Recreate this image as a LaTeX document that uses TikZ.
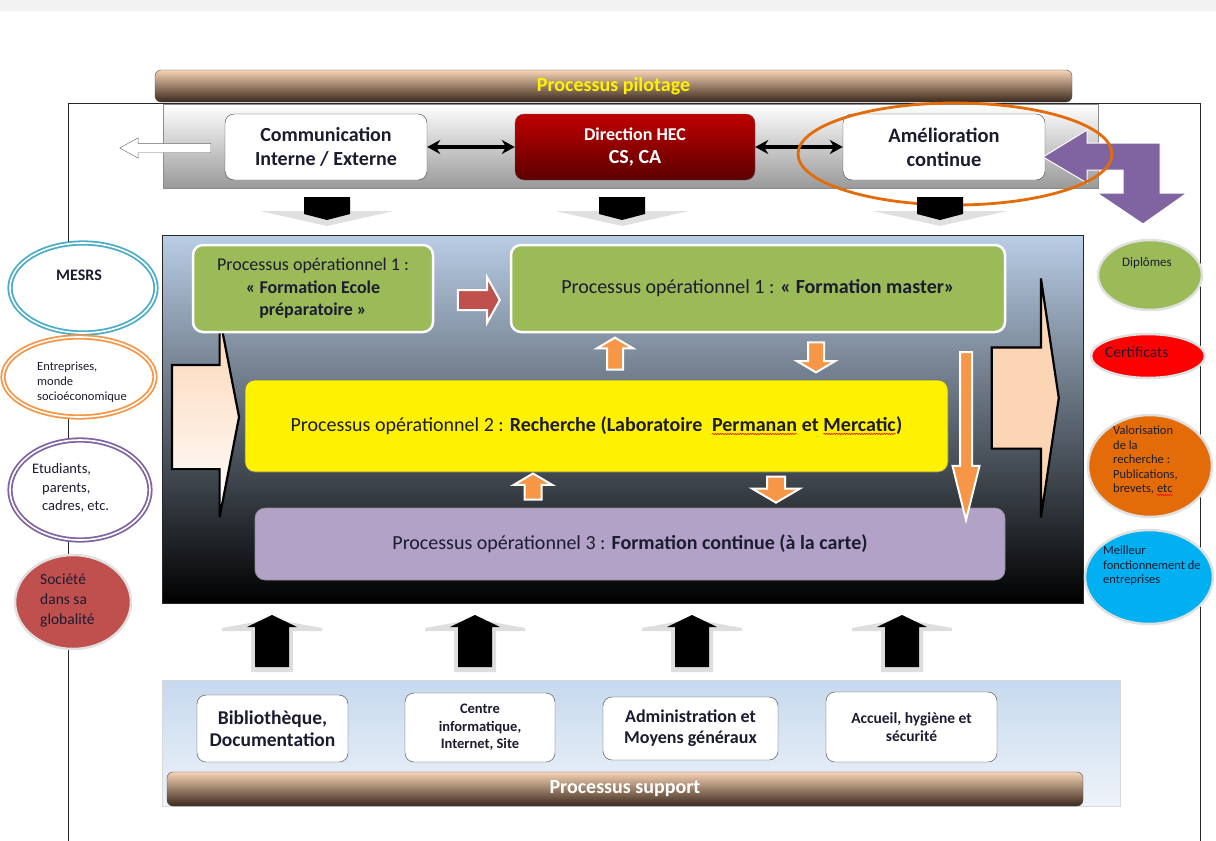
\documentclass[tikz,border=0pt]{standalone}
\usepackage{fontspec}
\setmainfont{Carlito}
\usetikzlibrary{arrows.meta,shapes.arrows,shapes.geometric,decorations.pathmorphing,positioning}

\definecolor{txtdark}{HTML}{1C1C30}
\definecolor{tanlight}{HTML}{F6D3B4}
\definecolor{tanmid}{HTML}{C59E7E}
\definecolor{tandark}{HTML}{3A281B}
\definecolor{skyblue}{HTML}{B9CDE5}
\definecolor{midslate}{HTML}{7E8B9D}
\definecolor{palegreen}{HTML}{9BBB59}
\definecolor{brickred}{HTML}{C0504D}
\definecolor{softorange}{HTML}{F79646}
\definecolor{lilac}{HTML}{B3A2C7}
\definecolor{arrowviolet}{HTML}{8064A2}
\definecolor{peach}{HTML}{FCD5B4}
\definecolor{ringteal}{HTML}{4BACC6}
\definecolor{burnt}{HTML}{E36C09}
\definecolor{cyanblue}{HTML}{00B0F0}
\definecolor{hecred}{HTML}{C00000}
\definecolor{hecdark}{HTML}{5C0000}
\definecolor{supblue}{HTML}{C6D9EE}
\definecolor{supwhite}{HTML}{EEF3F9}

\tikzset{plainword/.style={shape=rectangle,anchor=base,inner sep=0pt,outer sep=0pt,minimum width=0pt,minimum height=0pt,draw=none,fill=none,align=none,rotate=0}}
\newcommand{\redwave}[1]{\tikz[baseline=(wv.base)]{\node[plainword] (wv) {#1};
  \draw[red,line width=.5pt,sharp corners,decorate,decoration={snake,amplitude=.7pt,segment length=2.5pt}] ([yshift=-2pt]wv.south west) -- ([yshift=-2pt]wv.south east);}}

\begin{document}
\begin{tikzpicture}[x=1pt,y=-1pt,
    every node/.style={text=txtdark},
    whitebox/.style={draw=black!75,fill=white,rounded corners=9pt,align=center,inner sep=0pt},
    brownbar/.style={draw=black!70,rounded corners=6pt,top color=tanlight,middle color=tanmid,bottom color=tandark,inner sep=0pt,font=\fontsize{20}{22}\selectfont\bfseries},
    opbox/.style={rounded corners=10pt,align=center,inner sep=0pt,font=\fontsize{20}{24}\selectfont},
    blockarrow/.style={single arrow,inner xsep=0pt,draw=white,line width=2pt},
    ringnode/.style={ellipse,draw=#1,double=white,double distance=1.6pt,line width=1.8pt,fill=white,inner sep=0pt},
    blobnode/.style={ellipse,fill=#1,draw=black!12,line width=2.5pt,inner sep=0pt},
    smalltxt/.style={align=left,anchor=west,inner sep=0pt},
    linkarrow/.style={{Stealth[length=13pt,width=14pt]}-{Stealth[length=13pt,width=14pt]},line width=3.5pt},
  ]
  \useasboundingbox (0,0) rectangle (1216,841);
  \fill[black!5] (0,0) rectangle (1216,11);

  % cadre
  \draw[black!85] (68,841) -- (68,103) -- (1200,103) -- (1200,841);

  % pilotage
  \node[brownbar,minimum width=917pt,minimum height=32pt,text=yellow] (pilot) at (613.5,86) {Processus pilotage};
  \node[draw=black!45,top color=white,bottom color=black!40,minimum width=935pt,minimum height=84pt,inner sep=0pt] (pilotzone) at (630.5,146) {};

  \node[whitebox,minimum width=202pt,minimum height=66pt,font=\fontsize{20}{24}\selectfont\bfseries] (comm) at (326,147) {Communication\\Interne / Externe};
  \node[draw=black!60,rounded corners=9pt,top color=hecred,bottom color=hecdark,minimum width=240pt,minimum height=66pt,inner sep=0pt,align=center,text=white,font=\fontsize{18}{23}\selectfont\bfseries] (dir) at (635,147) {Direction HEC\\{\fontsize{20}{23}\selectfont CS, CA}};
  \node[whitebox,minimum width=202pt,minimum height=66pt,font=\fontsize{20.5}{24}\selectfont\bfseries] (amelio) at (944,147) {Amélioration\\continue};

  \draw[linkarrow] (comm) -- (dir);
  \draw[linkarrow] (dir) -- (amelio);

  \node[single arrow,draw=black!60,fill=white,rotate=180,inner xsep=0pt,inner ysep=4.5pt,minimum height=91pt,single arrow head extend=5.5pt,single arrow tip angle=58] (sortie) at (169.5,148) {};

  % fleche violette
  \filldraw[fill=arrowviolet,draw=white,line width=1pt] (1043,157) -- (1087,130) -- (1087,143) -- (1160,143) -- (1160,193) -- (1187,193) -- (1143,224) -- (1097,193) -- (1123,193) -- (1123,170) -- (1087,170) -- (1087,183) -- cycle;
  \draw[burnt,line width=2.8pt] (955,154) ellipse [x radius=157pt,y radius=51pt];

  \foreach \cx in {327,622,940} {
    \fill[black!12] (\cx-23,200) -- (\cx+23,200) -- (\cx+23,211) -- (\cx+67,211) -- (\cx,226) -- (\cx-67,211) -- (\cx-23,211) -- cycle;
    \fill[black] (\cx-23,197) -- (\cx+23,197) -- (\cx+23,214) -- (\cx,220) -- (\cx-23,214) -- cycle;
  }

  % processus operationnels
  \node[draw=black!85,line width=.8pt,top color=skyblue,middle color=midslate,bottom color=black,minimum width=921pt,minimum height=368pt,inner sep=0pt] (opzone) at (622.5,419) {};

  \node[single arrow,draw=black,line width=2.2pt,top color=peach,bottom color=white,inner xsep=0pt,inner ysep=51pt,minimum height=67pt,single arrow head extend=48pt,single arrow tip angle=158] (entree) at (200.5,417) {};
  \node[single arrow,draw=black,line width=2.2pt,fill=peach,inner xsep=0pt,inner ysep=49.5pt,minimum height=67pt,single arrow head extend=69pt,single arrow tip angle=163] (resultat) at (1021.5,398) {};

  \node[opbox,fill=palegreen,draw=white,line width=2.5pt,minimum width=240pt,minimum height=87pt,font=\fontsize{18}{22.5}\selectfont] (prepa) at (313,288.5) {Processus opérationnel 1 :\\\textbf{« Formation Ecole}\\\textbf{préparatoire »}};
  \node[opbox,fill=palegreen,draw=white,line width=2.5pt,minimum width=494pt,minimum height=87pt] (master) at (758,288.5) {Processus opérationnel 1 : \textbf{« Formation master»}};
  \node[blockarrow,fill=brickred,inner ysep=9pt,minimum height=42pt,single arrow head extend=13pt,single arrow tip angle=122] (passage) at (476,300) {};

  \node[opbox,fill=yellow,draw=black!55,line width=.6pt,minimum width=703pt,minimum height=92pt] (recherche) at (596.5,426) {Processus opérationnel 2 : \textbf{Recherche (Laboratoire\hspace{5pt} \redwave{Permanan} et \redwave{Mercatic})}};
  \node[opbox,fill=lilac,draw=black!45,line width=.6pt,minimum width=750pt,minimum height=72pt] (formcont) at (630,544) {Processus opérationnel 3 : \textbf{Formation continue (à la carte)}};

  \node[blockarrow,fill=softorange,rotate=90,inner ysep=7pt,minimum height=32pt,single arrow head extend=10pt,single arrow tip angle=119] (up1) at (615,356) {};
  \node[blockarrow,fill=softorange,rotate=-90,inner ysep=7pt,minimum height=30pt,single arrow head extend=11pt,single arrow tip angle=119] (down1) at (816,355) {};
  \node[blockarrow,fill=softorange,rotate=90,inner ysep=7.5pt,minimum height=26pt,single arrow head extend=11pt,single arrow tip angle=119] (up2) at (533,489) {};
  \node[blockarrow,fill=softorange,rotate=-90,inner ysep=8pt,minimum height=26pt,single arrow head extend=15pt,single arrow tip angle=119] (down2) at (776,487) {};
  \node[blockarrow,fill=softorange,rotate=-90,inner ysep=5pt,minimum height=168pt,single arrow head extend=7.5pt,single arrow tip angle=28] (vers3) at (966,424) {};

  % parties interessees
  \node[ringnode=ringteal,minimum width=146pt,minimum height=90pt] (mesrs) at (83,288) {};
  \node[font=\fontsize{16}{18}\selectfont\bfseries] (mesrstxt) at (79,275) {MESRS};
  \node[ringnode=softorange,minimum width=152pt,minimum height=80pt] (entreprises) at (79,377) {};
  \node[smalltxt,font=\fontsize{12.5}{15}\selectfont] (entreprisestxt) at (37,382) {Entreprises,\\monde\\socioéconomique};
  \node[ringnode=arrowviolet,minimum width=140pt,minimum height=100pt] (etudiants) at (80,490) {};
  \node[smalltxt,font=\fontsize{14.5}{18.5}\selectfont] (etudiantstxt) at (32,488) {Etudiants,\\\hspace*{10pt}parents,\\\hspace*{10pt}cadres, etc.};
  \node[blobnode=brickred,minimum width=116pt,minimum height=94pt] (societe) at (73,602) {};
  \node[smalltxt,font=\fontsize{15.5}{20}\selectfont] (societetxt) at (40,600) {Société\\dans sa\\globalité};

  % resultats
  \node[blobnode=palegreen,minimum width=104pt,minimum height=70pt] (diplomes) at (1150,275) {};
  \node[font=\fontsize{13}{15}\selectfont] (diplomestxt) at (1147,263) {Diplômes};
  \node[blobnode=red,minimum width=114pt,minimum height=44pt] (certif) at (1148,356) {};
  \node[smalltxt,font=\fontsize{15.5}{18}\selectfont] (certiftxt) at (1105,352) {Certificats};
  \node[blobnode=burnt,minimum width=124pt,minimum height=102pt] (valor) at (1150,466) {};
  \node[smalltxt,font=\fontsize{12.5}{14.5}\selectfont] (valortxt) at (1113,461) {Valorisation\\de la\\recherche :\\Publications,\\brevets, \redwave{etc}};
  \node[blobnode=cyanblue,minimum width=128pt,minimum height=94pt] (meilleur) at (1149,577) {};
  \node[smalltxt,font=\fontsize{12.5}{14.5}\selectfont] (meilleurtxt) at (1103,566) {Meilleur\\fonctionnement de\\entreprises};

  % support
  \foreach \cx in {272,475,692,902} {
    \fill[black!13] (\cx-50,628) -- (\cx,619) -- (\cx+50,628) -- (\cx+50,631) -- (\cx+21,631) -- (\cx+21,672) -- (\cx-21,672) -- (\cx-21,631) -- (\cx-50,631) -- cycle;
    \fill[black] (\cx,615) -- (\cx+25,627) -- (\cx+17,627) -- (\cx+17,667) -- (\cx-17,667) -- (\cx-17,627) -- (\cx-25,627) -- cycle;
  }

  \node[top color=supblue,bottom color=supwhite,draw=black!15,minimum width=958pt,minimum height=126pt,inner sep=0pt] (supportzone) at (641,743) {};
  \node[whitebox,minimum width=151pt,minimum height=67pt,font=\fontsize{19.5}{22}\selectfont\bfseries] (biblio) at (272.5,728.5) {Bibliothèque,\\Documentation};
  \node[whitebox,minimum width=150pt,minimum height=69pt,font=\fontsize{14.5}{17.5}\selectfont\bfseries] (info) at (480,727.5) {Centre\\informatique,\\Internet, Site};
  \node[whitebox,minimum width=175pt,minimum height=63pt,font=\fontsize{18}{21}\selectfont\bfseries] (admin) at (690.5,728.5) {Administration et\\Moyens généraux};
  \node[whitebox,minimum width=171pt,minimum height=70pt,font=\fontsize{15.5}{18}\selectfont\bfseries] (accueil) at (911.5,727) {Accueil, hygiène et\\sécurité};
  \node[brownbar,minimum width=916pt,minimum height=34pt,text=white] (support) at (625,789) {Processus support};
\end{tikzpicture}
\end{document}
